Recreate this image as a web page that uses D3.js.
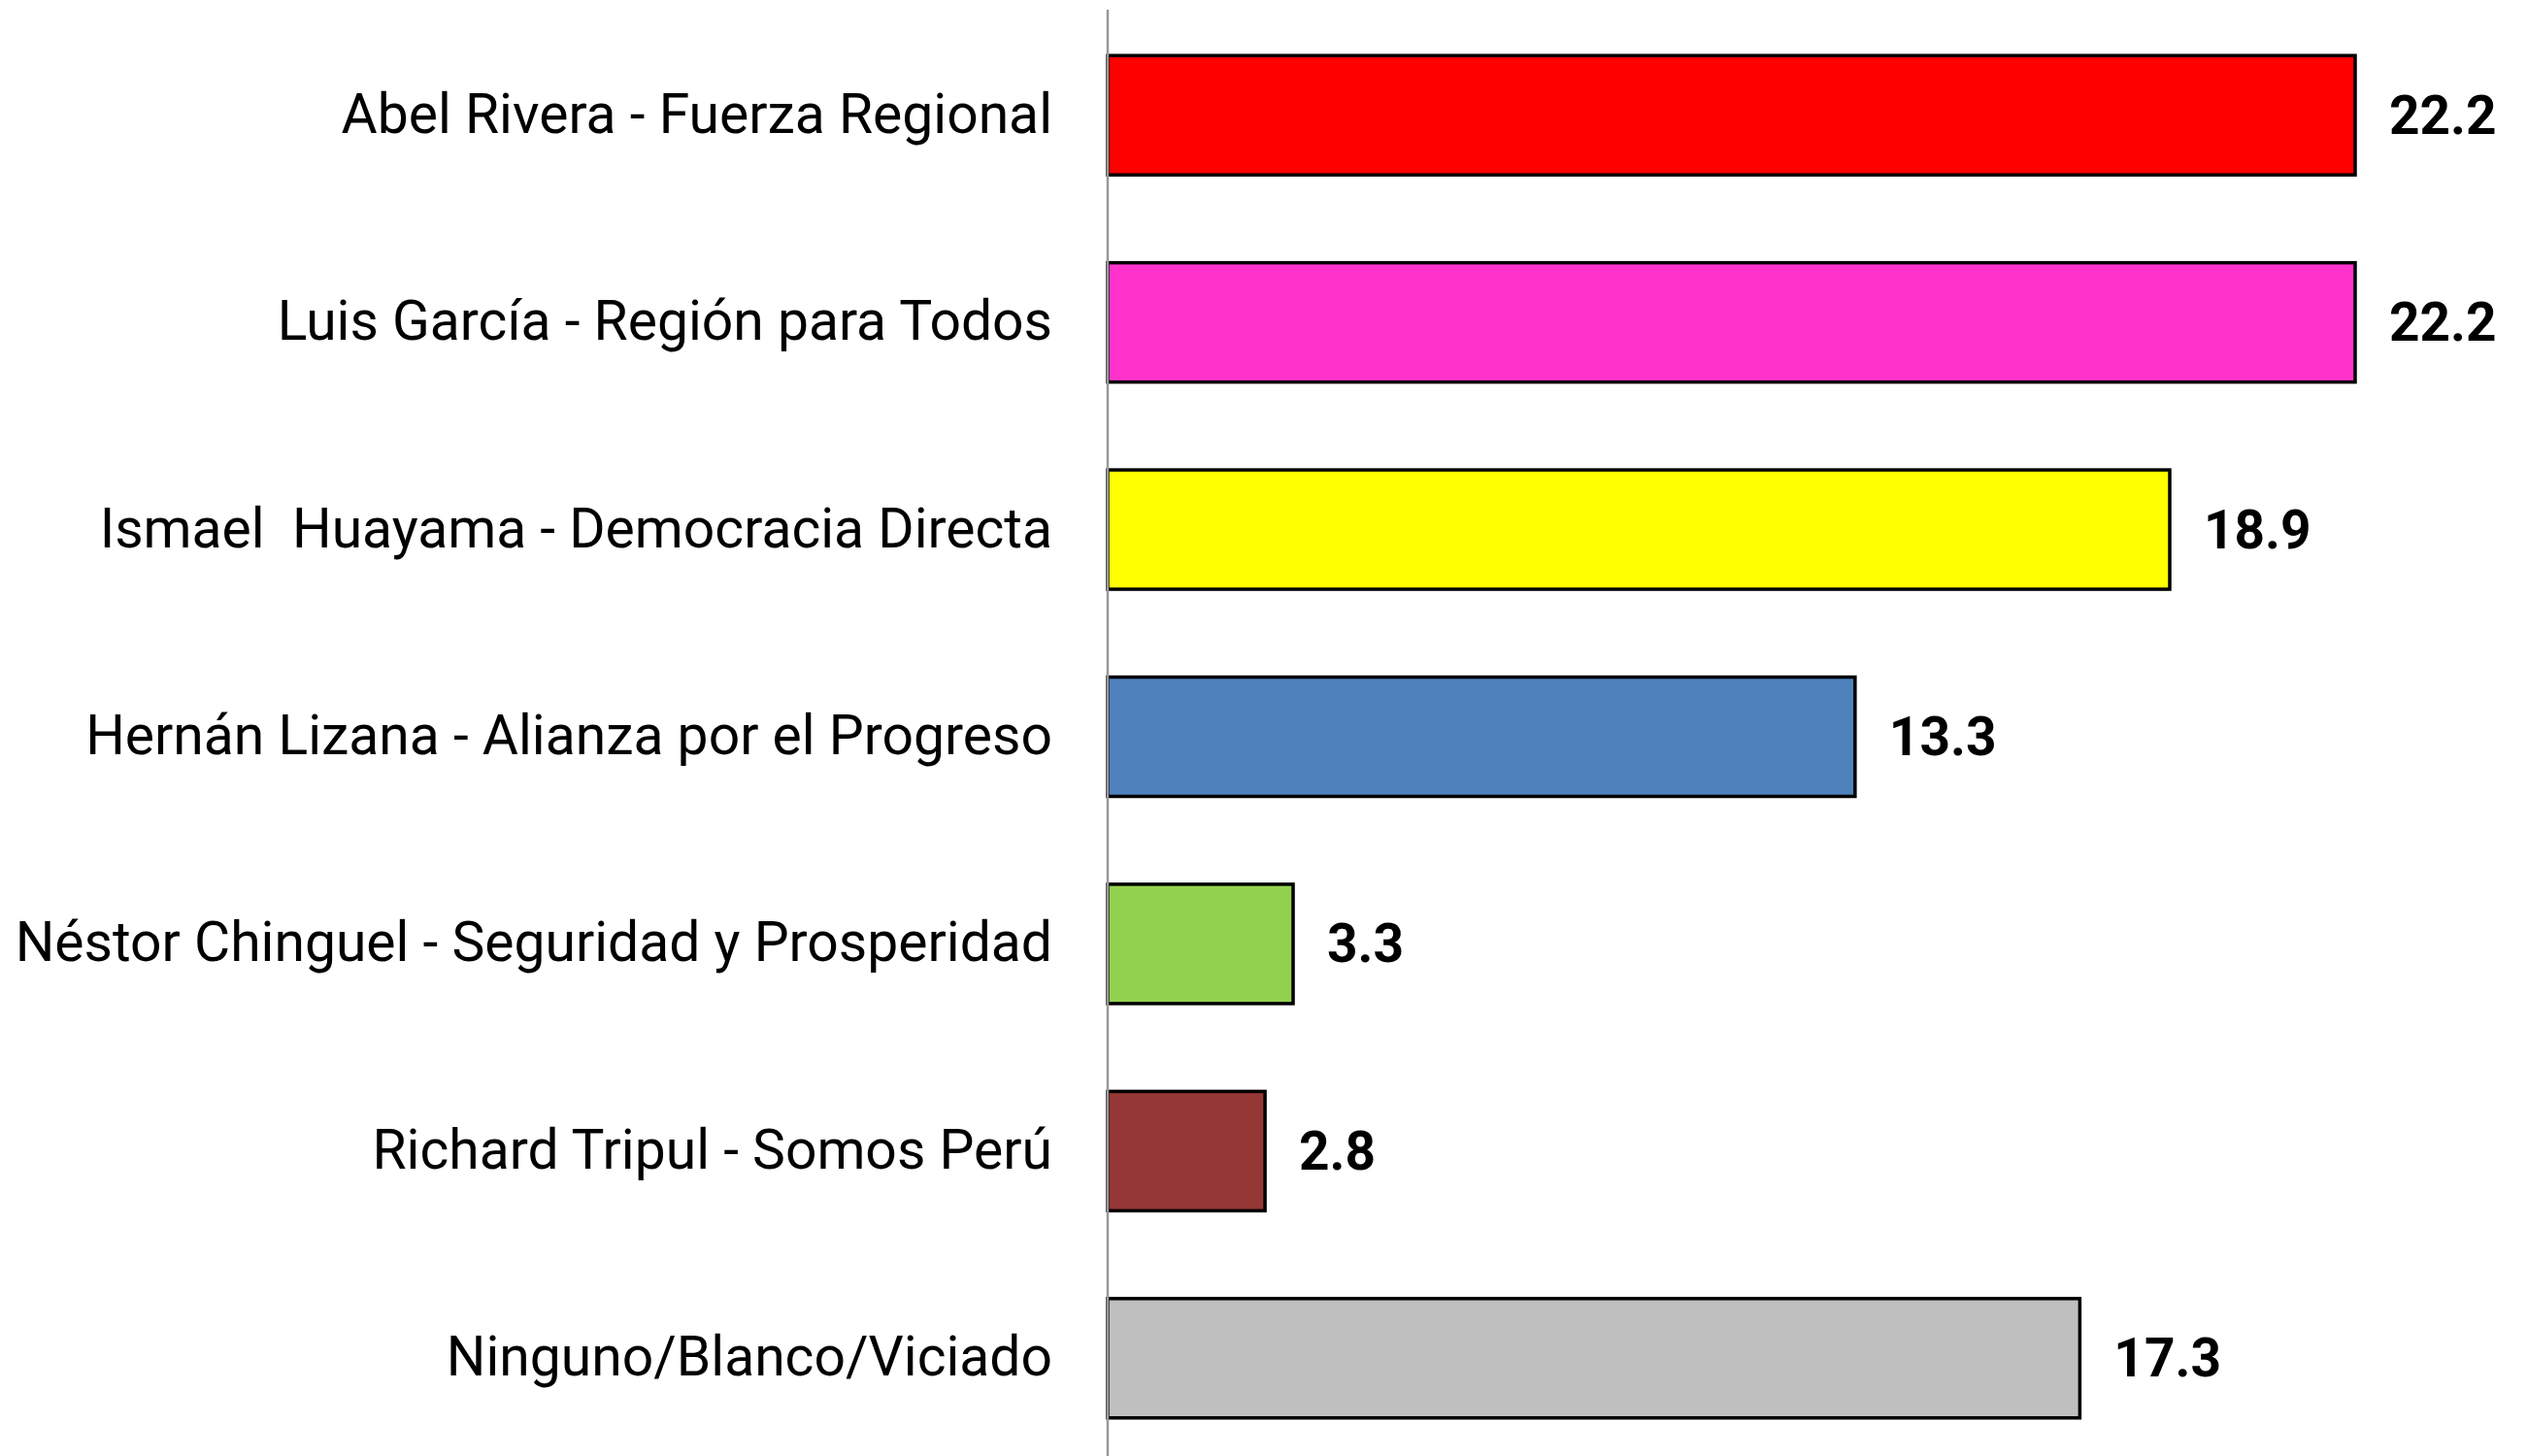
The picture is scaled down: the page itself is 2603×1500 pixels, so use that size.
<!DOCTYPE html>
<html>
<head>
<meta charset="utf-8">
<script src="https://cdn.jsdelivr.net/npm/d3@7"></script>
<style>
  body { margin: 0; background: #fff; }
  text { white-space: pre; }
</style>
</head>
<body>
<svg class="bar-chart"></svg>
<script>
var candidates = [
  "Abel Rivera - Fuerza Regional",
  "Luis García - Región para Todos",
  "Ismael  Huayama - Democracia Directa",
  "Hernán Lizana - Alianza por el Progreso",
  "Néstor Chinguel - Seguridad y Prosperidad",
  "Richard Tripul - Somos Perú",
  "Ninguno/Blanco/Viciado"
];
var votes = [22.2, 22.2, 18.9, 13.3, 3.3, 2.8, 17.3];
var barColors = ["#FF0000", "#FF33CC", "#FFFF00", "#4F81BD", "#92D050", "#953735", "#BFBFBF"];

var width = 2603, height = 1500;
var margin = {top: 12, right: 0, bottom: 0, left: 1141};

var chart = d3.select(".bar-chart")
  .attr("width", width)
  .attr("height", height);

var x = d3.scaleLinear()
  .domain([0, 22.2])
  .range([margin.left, 2426]);

var y = d3.scaleBand()
  .domain(candidates)
  .range([margin.top, 1506])
  .paddingInner(0.424)
  .paddingOuter(0.212);

var data = candidates.map((c, i) => ({name: c, value: votes[i], color: barColors[i]}));

chart.selectAll("rect.bar")
  .data(data)
  .enter().append("rect")
    .attr("class", "bar")
    .attr("x", x(0))
    .attr("y", (d) => y(d.name))
    .attr("width", (d) => x(d.value) - x(0))
    .attr("height", y.bandwidth())
    .attr("fill", (d) => d.color)
    .attr("stroke", "#000")
    .attr("stroke-width", 3.5);

// category labels
chart.selectAll("text.label")
  .data(data)
  .enter().append("text")
    .attr("class", "label")
    .attr("x", x(0) - 57)
    .attr("y", (d) => y(d.name) + y.bandwidth() / 2 + 18)
    .attr("text-anchor", "end")
    .attr("font-family", "'Liberation Sans Narrow', 'Arial Narrow', Roboto, sans-serif")
    .attr("font-size", 57)
    .attr("fill", "#000")
    .text((d) => d.name);

// value labels
chart.selectAll("text.value")
  .data(data)
  .enter().append("text")
    .attr("class", "value")
    .attr("x", (d) => x(d.value) + 35)
    .attr("y", (d) => y(d.name) + y.bandwidth() / 2 + 19)
    .attr("font-family", "'Liberation Sans Narrow', 'Arial Narrow', Roboto, sans-serif")
    .attr("font-weight", "bold")
    .attr("font-size", 55)
    .attr("fill", "#000")
    .text((d) => d3.format(".1f")(d.value));

// vertical axis line
chart.append("line")
  .attr("x1", x(0)).attr("x2", x(0))
  .attr("y1", 10).attr("y2", height)
  .attr("stroke", "#999")
  .attr("stroke-width", 2.5);
</script>
</body>
</html>
